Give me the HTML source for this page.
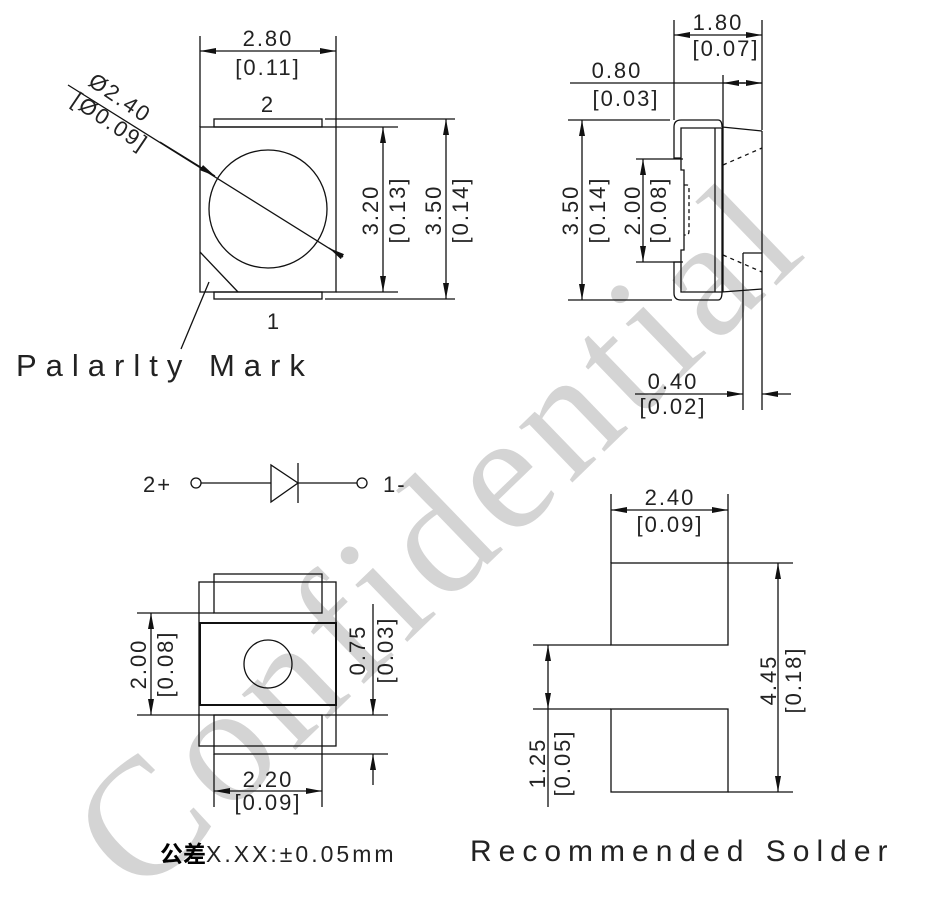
<!DOCTYPE html>
<html><head><meta charset="utf-8"><style>
html,body{margin:0;padding:0;background:#fff;}
svg{display:block;}
text{font-family:"Liberation Sans","Noto Sans CJK SC",sans-serif;fill:#222;}
.d{font-size:22px;letter-spacing:2px;}
</style></head><body>
<svg width="927" height="903" viewBox="0 0 927 903" xmlns="http://www.w3.org/2000/svg">
<defs>
<marker id="a" viewBox="0 0 16 6" refX="16" refY="3" markerWidth="16" markerHeight="6" markerUnits="userSpaceOnUse" orient="auto-start-reverse"><path d="M0,0 L16,3 L0,6 Z" fill="#111"/></marker>
</defs>
<text x="0" y="0" transform="translate(140,900) rotate(-44)" font-size="168" style="fill:#d4d4d4;font-family:'Liberation Serif',serif" letter-spacing="8">Confidential</text>

<g stroke="#111" stroke-width="1.3" fill="none">
<rect x="200" y="127" width="136" height="165"/>
<rect x="214" y="119" width="108" height="8"/>
<rect x="214" y="292" width="108" height="7"/>
<circle cx="268" cy="209" r="59"/>
<line x1="200" y1="252" x2="238" y2="292"/>
<line x1="181" y1="349" x2="209" y2="282"/>
<line x1="200" y1="36" x2="200" y2="127"/>
<line x1="336" y1="36" x2="336" y2="127"/>
<line x1="200" y1="51" x2="336" y2="51" marker-start="url(#a)" marker-end="url(#a)"/>
<line x1="68" y1="85" x2="343" y2="257"/>
<line x1="160" y1="142" x2="215" y2="176" marker-end="url(#a)"/>
<line x1="343" y1="257" x2="329" y2="248" marker-end="url(#a)"/>
<line x1="336" y1="127" x2="398" y2="127"/>
<line x1="336" y1="292" x2="398" y2="292"/>
<line x1="325" y1="119" x2="455" y2="119"/>
<line x1="325" y1="299" x2="455" y2="299"/>
<line x1="383" y1="127" x2="383" y2="292" marker-start="url(#a)" marker-end="url(#a)"/>
<line x1="446" y1="119" x2="446" y2="299" marker-start="url(#a)" marker-end="url(#a)"/>

<line x1="674" y1="20" x2="674" y2="120"/>
<line x1="762" y1="20" x2="762" y2="130"/>
<line x1="674" y1="35" x2="762" y2="35" marker-start="url(#a)" marker-end="url(#a)"/>
<line x1="570" y1="83" x2="762" y2="83"/>
<line x1="723" y1="75" x2="723" y2="292"/>
<line x1="740" y1="83" x2="762" y2="83" marker-end="url(#a)"/>
<line x1="745" y1="83" x2="723" y2="83" marker-end="url(#a)"/>
<line x1="568" y1="120" x2="670" y2="120"/>
<line x1="568" y1="300" x2="672" y2="300"/>
<line x1="582" y1="120" x2="582" y2="300" marker-start="url(#a)" marker-end="url(#a)"/>
<line x1="636" y1="159" x2="683" y2="159"/>
<line x1="636" y1="262" x2="683" y2="262"/>
<line x1="643" y1="159" x2="643" y2="262" marker-start="url(#a)" marker-end="url(#a)"/>
<path d="M681,158 L674,158 L674,127 Q674,120 681,120 L718,120 Q722,120 722,127"/>
<path d="M681,262 L674,262 L674,293 Q674,300 681,300 L718,300 Q722,300 722,292"/>
<path d="M681,158 L681,128 L722,128 L722,292 L681,292 L681,262"/>
<path d="M681,158 L681,170 L684,170 L684,250 L681,250 L681,262"/>
<line x1="715" y1="128" x2="715" y2="292"/>
<line x1="722" y1="127" x2="762" y2="131"/>
<line x1="722" y1="292" x2="762" y2="289"/>
<path d="M684,185 L687,185 Q689,185 689,190 L689,230 Q689,235 687,235 L684,235" stroke-dasharray="4,3"/>
<line x1="723" y1="165" x2="762" y2="148" stroke-dasharray="4,4"/>
<line x1="723" y1="255" x2="762" y2="272" stroke-dasharray="4,4"/>
<line x1="743" y1="253" x2="762" y2="253"/>
<line x1="743" y1="253" x2="743" y2="410"/>
<line x1="762" y1="131" x2="762" y2="410"/>
<line x1="635" y1="394" x2="743" y2="394" marker-end="url(#a)"/>
<line x1="791" y1="394" x2="762" y2="394" marker-end="url(#a)"/>

<circle cx="196" cy="483" r="5"/>
<line x1="201" y1="483" x2="271" y2="483"/>
<path d="M271,465 L271,502 L298,483 Z"/>
<line x1="298" y1="463" x2="298" y2="503"/>
<line x1="298" y1="483" x2="357" y2="483"/>
<circle cx="362" cy="483" r="5"/>

<rect x="214" y="574" width="108" height="39"/>
<rect x="199" y="582" width="137" height="164"/>
<rect x="200" y="623" width="136" height="82" stroke-width="2"/>
<rect x="214" y="715" width="108" height="39"/>
<circle cx="268" cy="664" r="24"/>
<line x1="137" y1="613" x2="214" y2="613"/>
<line x1="137" y1="715" x2="388" y2="715"/>
<line x1="322" y1="754" x2="388" y2="754"/>
<line x1="151" y1="613" x2="151" y2="715" marker-start="url(#a)" marker-end="url(#a)"/>
<line x1="373" y1="604" x2="373" y2="715" marker-end="url(#a)"/>
<line x1="373" y1="785" x2="373" y2="754" marker-end="url(#a)"/>
<line x1="214" y1="754" x2="214" y2="807"/>
<line x1="322" y1="754" x2="322" y2="807"/>
<line x1="214" y1="791" x2="322" y2="791" marker-start="url(#a)" marker-end="url(#a)"/>

<rect x="611" y="563" width="117" height="82"/>
<rect x="611" y="709" width="117" height="83"/>
<line x1="611" y1="494" x2="611" y2="563"/>
<line x1="728" y1="494" x2="728" y2="563"/>
<line x1="611" y1="510" x2="728" y2="510" marker-start="url(#a)" marker-end="url(#a)"/>
<line x1="728" y1="563" x2="793" y2="563"/>
<line x1="728" y1="792" x2="793" y2="792"/>
<line x1="778" y1="563" x2="778" y2="792" marker-start="url(#a)" marker-end="url(#a)"/>
<line x1="533" y1="645" x2="611" y2="645"/>
<line x1="533" y1="709" x2="611" y2="709"/>
<line x1="548" y1="645" x2="548" y2="709" marker-start="url(#a)" marker-end="url(#a)"/>
<line x1="548" y1="709" x2="548" y2="807"/>
</g>

<g class="d">
<text x="268" y="46" text-anchor="middle">2.80</text>
<text x="268" y="75" text-anchor="middle">[0.11]</text>
<text x="268" y="112" text-anchor="middle">2</text>
<text x="274" y="329" text-anchor="middle">1</text>
<text transform="translate(116,104) rotate(34)" text-anchor="middle">Ø2.40</text>
<text transform="translate(106,128) rotate(34)" text-anchor="middle">[Ø0.09]</text>
<text transform="translate(378,210) rotate(-90)" text-anchor="middle">3.20</text>
<text transform="translate(405,210) rotate(-90)" text-anchor="middle">[0.13]</text>
<text transform="translate(441,210) rotate(-90)" text-anchor="middle">3.50</text>
<text transform="translate(468,210) rotate(-90)" text-anchor="middle">[0.14]</text>

<text x="718" y="30" text-anchor="middle">1.80</text>
<text x="726" y="56" text-anchor="middle">[0.07]</text>
<text x="617" y="78" text-anchor="middle">0.80</text>
<text x="626" y="106" text-anchor="middle">[0.03]</text>
<text transform="translate(578,210) rotate(-90)" text-anchor="middle">3.50</text>
<text transform="translate(605,210) rotate(-90)" text-anchor="middle">[0.14]</text>
<text transform="translate(640,210) rotate(-90)" text-anchor="middle">2.00</text>
<text transform="translate(666,210) rotate(-90)" text-anchor="middle">[0.08]</text>
<text x="673" y="389" text-anchor="middle">0.40</text>
<text x="673" y="414" text-anchor="middle">[0.02]</text>

<text x="143" y="492">2+</text>
<text x="383" y="492">1-</text>

<text transform="translate(146,664) rotate(-90)" text-anchor="middle">2.00</text>
<text transform="translate(173,664) rotate(-90)" text-anchor="middle">[0.08]</text>
<text transform="translate(365,650) rotate(-90)" text-anchor="middle">0.75</text>
<text transform="translate(393,650) rotate(-90)" text-anchor="middle">[0.03]</text>
<text x="268" y="787" text-anchor="middle">2.20</text>
<text x="268" y="810" text-anchor="middle">[0.09]</text>

<text x="670" y="505" text-anchor="middle">2.40</text>
<text x="670" y="532" text-anchor="middle">[0.09]</text>
<text transform="translate(776,680) rotate(-90)" text-anchor="middle">4.45</text>
<text transform="translate(801,680) rotate(-90)" text-anchor="middle">[0.18]</text>
<text transform="translate(545,763) rotate(-90)" text-anchor="middle">1.25</text>
<text transform="translate(570,763) rotate(-90)" text-anchor="middle">[0.05]</text>
</g>
<text x="16" y="376" font-size="31" letter-spacing="9">Palarlty Mark</text>
<text x="160" y="862" font-size="23" letter-spacing="3"><tspan font-weight="bold" fill="#000" letter-spacing="0" style="font-family:'Noto Sans CJK SC',sans-serif">公差</tspan>X.XX:±0.05mm</text>
<text x="470" y="861" font-size="30" letter-spacing="7">Recommended Solder</text>
</svg>
</body></html>
